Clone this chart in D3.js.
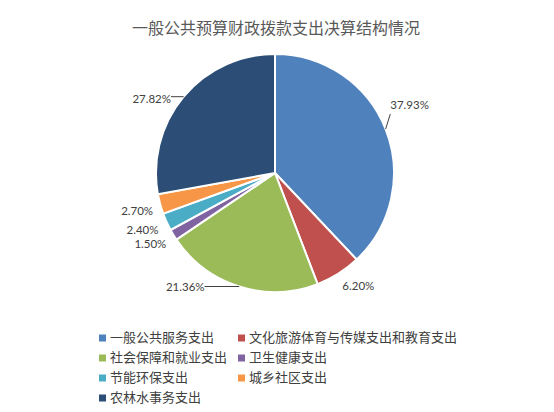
<!DOCTYPE html>
<html>
<head>
<meta charset="utf-8">
<script src="https://cdn.jsdelivr.net/npm/d3@7"></script>
<style>
  body { margin: 0; background: #fff; }
  text { font-family: "Noto Sans CJK SC", "Noto Sans", sans-serif; }
  text.pct { font-family: Lato, "Liberation Sans", sans-serif; }
</style>
</head>
<body>
<svg></svg>
<script>
const categories = ['一般公共服务支出', '文化旅游体育与传媒支出和教育支出', '社会保障和就业支出',
    '卫生健康支出', '节能环保支出', '城乡社区支出', '农林水事务支出'];
const values = [37.93, 6.20, 21.36, 1.50, 2.40, 2.70, 27.82];
const labels = ['37.93%', '6.20%', '21.36%', '1.50%', '2.40%', '2.70%', '27.82%'];
const colors = ['#4F81BD', '#C0504D', '#9BBB59', '#8064A2', '#4BACC6', '#F79646', '#2C4D75'];

const size = {w: 554, h: 412};
const center = {x: 275, y: 173};
const radius = 119;

// label placement relative to the slice edge at its mid angle (Excel "best fit" look)
const labelShift = [
    {dx: 24, dy: -23, line: true},
    {dx: 20, dy: 13},
    {dx: -54, dy: 2, line: true},
    {dx: -23, dy: 10},
    {dx: -24, dy: 9},
    {dx: -23, dy: 8},
    {dx: -32, dy: 3, line: true}
];

const svg = d3.select('svg')
    .attr('width', size.w)
    .attr('height', size.h);

svg.append('text')
    .attr('x', 276)
    .attr('y', 30)
    .attr('text-anchor', 'middle')
    .attr('dominant-baseline', 'middle')
    .attr('font-size', 16)
    .attr('fill', '#595959')
    .text('一般公共预算财政拨款支出决算结构情况');

const pie = d3.pie().sort(null).value(d => d)(values);
const arc = d3.arc().innerRadius(0).outerRadius(radius);

const g = svg.append('g').attr('transform', `translate(${center.x},${center.y})`);

g.selectAll('path')
    .data(pie)
    .join('path')
    .attr('d', arc)
    .attr('fill', (d, i) => colors[i])
    .attr('stroke', '#fff')
    .attr('stroke-width', 2);

function edgePoint(d) {
    const a = (d.startAngle + d.endAngle) / 2;
    return [radius * Math.sin(a), -radius * Math.cos(a)];
}

pie.forEach((d, i) => {
    const [ex, ey] = edgePoint(d);
    const s = labelShift[i];
    const tx = ex + s.dx, ty = ey + s.dy;
    const t = g.append('text')
        .attr('class', 'pct')
        .attr('x', tx)
        .attr('y', ty)
        .attr('text-anchor', 'middle')
        .attr('dominant-baseline', 'middle')
        .attr('font-size', 11.5)
        .attr('fill', '#404040')
        .text(labels[i]);
    if (s.line) {
        const w = t.node().getComputedTextLength();
        let lx, ly;
        if (i === 0) { lx = tx - w / 2; ly = ty + 8; }
        else { lx = tx + w / 2; ly = ey; }
        g.append('line')
            .attr('x1', ex).attr('y1', ey)
            .attr('x2', lx).attr('y2', ly)
            .attr('stroke', '#404040')
            .attr('stroke-width', 1);
    }
});

// legend
const legend = svg.append('g');
const cols = [99, 238];
categories.forEach((c, i) => {
    const x = cols[i % 2];
    const y = 338 + Math.floor(i / 2) * 20;
    legend.append('rect')
        .attr('x', x).attr('y', y - 3.5)
        .attr('width', 7).attr('height', 7)
        .attr('fill', colors[i]);
    legend.append('text')
        .attr('x', x + 11).attr('y', y)
        .attr('dominant-baseline', 'middle')
        .attr('font-size', 13)
        .attr('fill', '#404040')
        .text(c);
});
</script>
</body>
</html>
